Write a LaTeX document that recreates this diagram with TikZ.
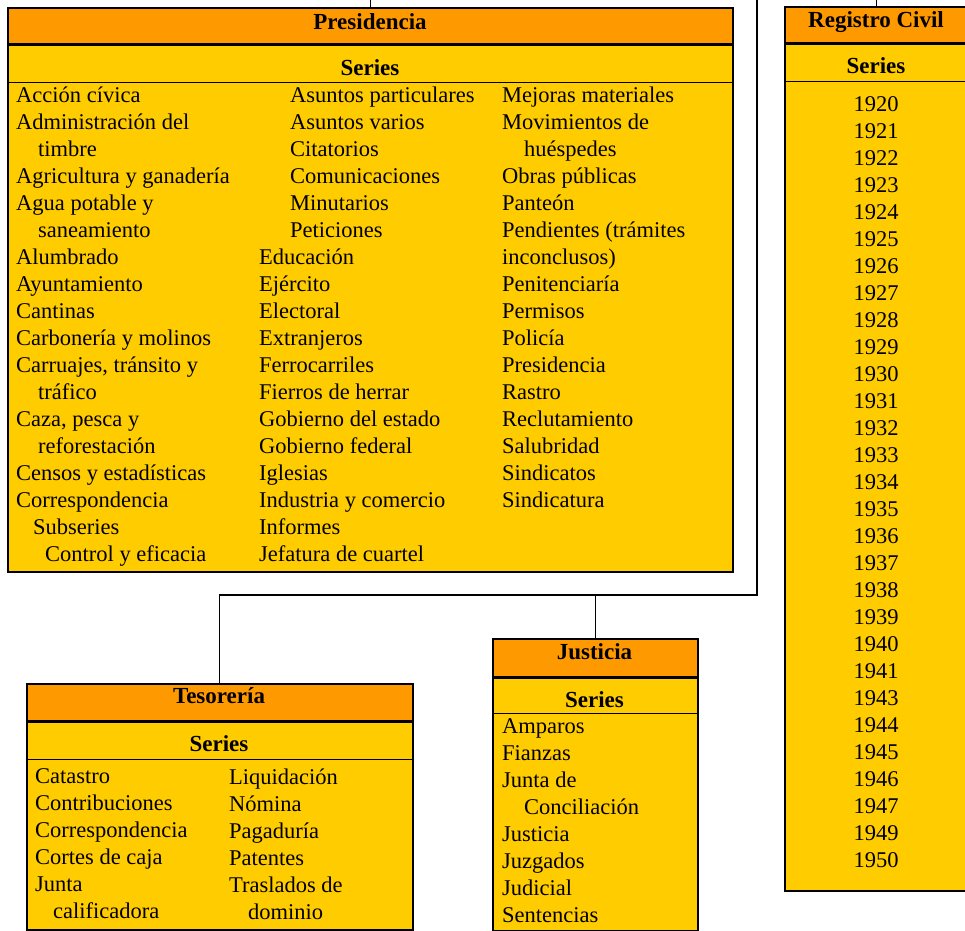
\documentclass[tikz,border=0pt]{standalone}
\usepackage{fontspec}
\setmainfont{Liberation Serif}
\usepackage{xcolor}

\begin{document}
\begin{tikzpicture}[x=1pt,y=-1pt]
% Define colours
\definecolor{headorange}{RGB}{255,153,0}
\definecolor{listyellow}{RGB}{255,204,0}
\tikzset{
  unitbox/.style={draw, line width=1.5pt, fill=listyellow, inner sep=0pt, anchor=north west},
  headbox/.style={draw, line width=1.5pt, fill=headorange, inner sep=0pt, anchor=north west},
  boxtitle/.style={font=\fontsize{23}{27}\selectfont\bfseries, anchor=base, inner sep=0pt},
  items/.style={font=\fontsize{22.5}{27}\selectfont, align=left, anchor=north west, inner sep=0pt,
    execute at begin node=\rule{0pt}{19pt}},
  link/.style={line width=1.4pt}
}
\useasboundingbox (0,0) rectangle (965,930);

% Presidencia
\node[unitbox, minimum width=725pt, minimum height=564pt] (pres) at (7,7) {};
\node[headbox, minimum width=725pt, minimum height=36pt] (pres-head) at (7,7) {};
\node[unitbox, minimum width=725pt, minimum height=37pt] (pres-ser) at (pres-head.south west) {};
\node[boxtitle] (pres-t) at (370,29) {Presidencia};
\node[boxtitle] (pres-s) at (370,75) {Series};
\node[items] (pres-c1) at (16,86.5) {Acción cívica\\Administración del\\\hspace*{22pt}timbre\\
  Agricultura y ganadería\\Agua potable y\\\hspace*{22pt}saneamiento\\Alumbrado\\Ayuntamiento\\
  Cantinas\\Carbonería y molinos\\Carruajes, tránsito y\\\hspace*{22pt}tráfico\\Caza, pesca y\\
  \hspace*{22pt}reforestación\\Censos y estadísticas\\Correspondencia\\\hspace*{17pt}Subseries\\
  \hspace*{29pt}Control y eficacia};
\node[items] (pres-c2a) at (290,86.5) {Asuntos particulares\\Asuntos varios\\Citatorios\\
  Comunicaciones\\Minutarios\\Peticiones};
\node[items] (pres-c2b) at (259,248.5) {Educación\\Ejército\\Electoral\\Extranjeros\\Ferrocarriles\\
  Fierros de herrar\\Gobierno del estado\\Gobierno federal\\Iglesias\\Industria y comercio\\
  Informes\\Jefatura de cuartel};
\node[items] (pres-c3) at (502,86.5) {Mejoras materiales\\Movimientos de\\\hspace*{22pt}huéspedes\\
  Obras públicas\\Panteón\\Pendientes (trámites\\inconclusos)\\Penitenciaría\\Permisos\\Policía\\
  Presidencia\\Rastro\\Reclutamiento\\Salubridad\\Sindicatos\\Sindicatura};

% Registro Civil
\node[unitbox, minimum width=184pt, minimum height=884pt] (reg) at (784,6) {};
\node[headbox, minimum width=184pt, minimum height=36pt] (reg-head) at (784,6) {};
\node[unitbox, minimum width=184pt, minimum height=37pt] (reg-ser) at (reg-head.south west) {};
\node[boxtitle] (reg-t) at (876,27) {Registro Civil};
\node[boxtitle] (reg-s) at (876,73) {Series};
\node[items, align=center, anchor=north] (reg-y) at (876,96.5) {1920\\1921\\1922\\1923\\1924\\1925\\
  1926\\1927\\1928\\1929\\1930\\1931\\1932\\1933\\1934\\1935\\1936\\1937\\1938\\1939\\1940\\1941\\
  1943\\1944\\1945\\1946\\1947\\1949\\1950};

% Tesoreria
\node[unitbox, minimum width=386pt, minimum height=246pt] (teso) at (26,683) {};
\node[headbox, minimum width=386pt, minimum height=37pt] (teso-head) at (26,683) {};
\node[unitbox, minimum width=386pt, minimum height=37pt] (teso-ser) at (teso-head.south west) {};
\node[boxtitle] (teso-t) at (219,703) {Tesorería};
\node[boxtitle] (teso-s) at (219,751) {Series};
\node[items] (teso-c1) at (35,768.5) {Catastro\\Contribuciones\\Correspondencia\\Cortes de caja\\
  Junta\\\hspace*{18pt}calificadora};
\node[items] (teso-c2) at (229,768.5) {Liquidación\\Nómina\\Pagaduría\\Patentes\\Traslados de\\
  \hspace*{19pt}dominio};

% Justicia
\node[unitbox, minimum width=205pt, minimum height=292pt] (just) at (492,638) {};
\node[headbox, minimum width=205pt, minimum height=38pt] (just-head) at (492,638) {};
\node[unitbox, minimum width=205pt, minimum height=35pt] (just-ser) at (just-head.south west) {};
\node[boxtitle] (just-t) at (594.5,659) {Justicia};
\node[boxtitle] (just-s) at (594.5,707) {Series};
\node[items] (just-c1) at (502,718.5) {Amparos\\Fianzas\\Junta de\\\hspace*{22pt}Conciliación\\
  Justicia\\Juzgados\\Judicial\\Sentencias};

% Connectors
\coordinate (presin) at (pres.north |- 0,0);
\coordinate (regin) at (reg.north |- 0,0);
\coordinate (feed) at (757,0);
\coordinate (split) at (757,595);
\draw[link] (presin) -- (pres.north);
\draw[link] (regin) -- (reg.north);
\draw[link] (feed) -- (split) -- (teso.north |- split) -- (teso.north);
\draw[link] (just.north |- split) -- (just.north);
\end{tikzpicture}
\end{document}
